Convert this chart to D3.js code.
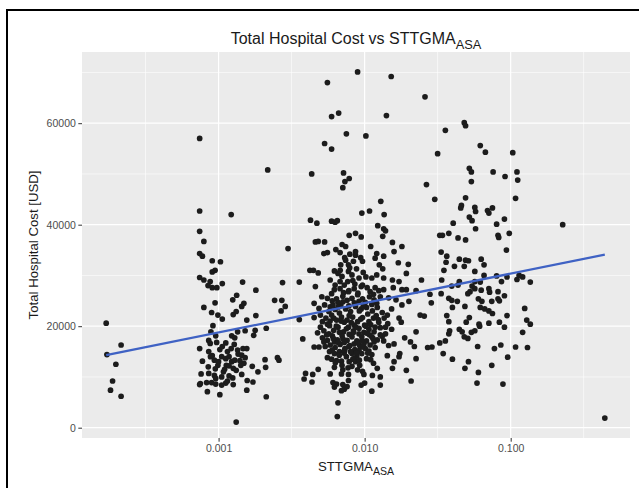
<!DOCTYPE html>
<html>
<head>
<meta charset="utf-8">
<script src="https://cdn.jsdelivr.net/npm/d3@7"></script>
<style>
  body { margin: 0; background: #fff; }
  svg text { font-family: "Liberation Sans", Arial, Helvetica, sans-serif; }
</style>
</head>
<body>
<svg id="chart" width="639" height="488"></svg>
<script>
const lowGroup = [
  [0.000170, 20600], [0.000172, 14400], [0.000215, 16300], [0.000198, 12500],
  [0.000188, 9200], [0.000182, 7400], [0.000215, 6200]
];

const milliGroup = [
  [0.000742, 57000], [0.000742, 42700], [0.000742, 38700], [0.000793, 36700],
  [0.000742, 34300], [0.000775, 33800], [0.000905, 32900], [0.00103, 32700],
  [0.000946, 31000], [0.000905, 30700], [0.000742, 29600], [0.000793, 29100],
  [0.000876, 28800], [0.000847, 28000], [0.000905, 27600], [0.000973, 27600],
  [0.00106, 28400], [0.00122, 42000], [0.00146, 28700], [0.00180, 27100],
  [0.00217, 50800], [0.00299, 35300], [0.00274, 28600], [0.00357, 28700],
  [0.000793, 23700], [0.000946, 24600], [0.000896, 22700], [0.000989, 22200],
  [0.00106, 21400], [0.00125, 25200], [0.00133, 26100], [0.00144, 23900],
  [0.00149, 24500], [0.00126, 22300], [0.00132, 22900], [0.00156, 21200],
  [0.00180, 22100], [0.00242, 25100], [0.00271, 25100], [0.00286, 23900],
  [0.00268, 23000], [0.00212, 19600], [0.00178, 19200], [0.00174, 18200],
  [0.00152, 19100], [0.00135, 18900], [0.000915, 20100], [0.000886, 18900],
  [0.000856, 17200], [0.000876, 16600], [0.000956, 18100], [0.000742, 15600],
  [0.000775, 13100], [0.000856, 15000], [0.000905, 14200], [0.000936, 13300],
  [0.00102, 15400], [0.00106, 16000], [0.00112, 16700], [0.00123, 18100],
  [0.00129, 17700], [0.00128, 16400], [0.00135, 15300], [0.00147, 15600],
  [0.00156, 15600], [0.00144, 14300], [0.00152, 13800], [0.000989, 12300],
  [0.00105, 14000], [0.00112, 13600], [0.00118, 14000], [0.00123, 13000],
  [0.00129, 13300], [0.00113, 12300], [0.00118, 12200], [0.00126, 11700],
  [0.00132, 11300], [0.00142, 12300], [0.00149, 12700], [0.00144, 10500],
  [0.00170, 12100], [0.00186, 11000], [0.00208, 13400], [0.00210, 11900],
  [0.00253, 13800], [0.00259, 13300], [0.000759, 10600], [0.000856, 10700],
  [0.000936, 10300], [0.00108, 11000], [0.00118, 10200], [0.000750, 8700],
  [0.000742, 8500], [0.000828, 8900], [0.000896, 8900], [0.000956, 8600],
  [0.00112, 8800], [0.00115, 9200], [0.00126, 8500], [0.00157, 9300],
  [0.00172, 9000], [0.000838, 7100], [0.00102, 6500], [0.00156, 7400],
  [0.00212, 6100], [0.00132, 1100], [0.000956, 9700], [0.00105, 8400],
  [0.00085, 12000], [0.00095, 11600], [0.00100, 13000], [0.00110, 11500],
  [0.00115, 15000], [0.00122, 15600], [0.00136, 14500], [0.00140, 13200],
  [0.00105, 10000], [0.00125, 9800], [0.00088, 14000], [0.00097, 16800]
];

const centiGroup = [
  [0.00895, 70100], [0.00556, 68000], [0.0152, 69200], [0.0259, 65200],
  [0.00594, 61300], [0.00664, 62000], [0.0141, 61500], [0.00750, 57900],
  [0.0102, 57500], [0.00532, 56000], [0.00594, 54900], [0.00434, 50000],
  [0.00717, 50200], [0.00784, 49100], [0.00733, 48500], [0.00709, 47300],
  [0.0129, 44600], [0.00957, 42300], [0.0108, 42700], [0.0136, 42000],
  [0.00426, 40900], [0.00471, 40300], [0.00594, 40700], [0.00628, 40500],
  [0.00650, 40800], [0.0123, 39800], [0.0135, 39200], [0.0139, 38800],
  [0.0133, 37700], [0.00866, 38300], [0.00784, 37900], [0.00947, 37600],
  [0.00460, 36600], [0.00481, 36700], [0.00532, 36600], [0.0155, 36500],
  [0.0180, 35700], [0.0110, 35700], [0.00701, 36100], [0.00741, 35700],
  [0.00635, 35100], [0.0159, 34700], [0.00526, 34300], [0.00556, 34500],
  [0.00679, 34500], [0.00792, 34200], [0.00866, 34000], [0.0121, 34300],
  [0.0135, 33800], [0.0118, 33400], [0.0199, 32200], [0.0170, 32500],
  [0.0193, 30400], [0.00741, 33000], [0.00838, 32800], [0.00967, 32800],
  [0.00686, 32100], [0.0126, 32100], [0.0133, 31300], [0.00422, 31000],
  [0.00446, 31000], [0.00481, 30500], [0.00621, 30900], [0.00657, 30400],
  [0.00775, 30800], [0.00819, 30100], [0.00978, 30600], [0.0102, 29700],
  [0.0112, 29500], [0.0121, 30100], [0.0135, 29500], [0.0155, 29100],
  [0.0172, 28800], [0.0245, 29100], [0.00460, 27800], [0.00581, 29100],
  [0.00679, 28800], [0.00725, 28100], [0.00857, 28300], [0.00947, 27800],
  [0.0118, 27600], [0.0157, 27600], [0.0180, 27200], [0.0193, 27200],
  [0.0225, 27000], [0.0280, 26300], [0.0135, 27200], [0.00509, 25800],
  [0.00556, 25500], [0.00594, 26400], [0.00642, 25400], [0.00709, 25900],
  [0.00758, 25100], [0.00819, 25500], [0.00895, 26200], [0.00967, 25400],
  [0.0108, 25800], [0.0116, 25200], [0.0128, 25800], [0.0146, 25600],
  [0.0164, 25200], [0.0201, 24900], [0.0180, 24200], [0.0286, 24600],
  [0.00451, 24500], [0.00487, 23500], [0.00532, 24200], [0.00581, 23800],
  [0.00628, 23300], [0.00686, 24100], [0.00741, 23400], [0.00801, 22900],
  [0.00866, 23900], [0.00947, 23400], [0.0103, 23700], [0.0113, 23000],
  [0.0122, 23700], [0.0132, 22700], [0.0153, 23400], [0.0240, 22200],
  [0.0256, 22000], [0.00357, 21300], [0.00451, 21700], [0.00498, 22200],
  [0.00543, 21600], [0.00594, 22200], [0.00642, 21200], [0.00694, 21800],
  [0.00758, 21200], [0.00828, 21800], [0.00895, 20900], [0.00967, 21700],
  [0.0107, 20900], [0.0115, 21600], [0.0125, 20800], [0.0136, 21600],
  [0.0144, 20500], [0.0172, 21600], [0.0178, 20800], [0.00498, 19800],
  [0.00526, 19100], [0.00575, 20100], [0.00614, 19200], [0.00657, 19800],
  [0.00717, 18900], [0.00775, 19800], [0.00838, 19100], [0.00915, 19600],
  [0.00989, 18800], [0.0107, 19400], [0.0116, 18900], [0.0128, 19700],
  [0.0139, 19800], [0.0153, 19400], [0.0225, 18900], [0.00377, 17500],
  [0.00514, 17700], [0.00556, 17200], [0.00601, 18100], [0.00650, 17300],
  [0.00701, 18100], [0.00758, 17200], [0.00819, 17900], [0.00885, 17100],
  [0.00957, 17900], [0.0103, 17100], [0.0112, 17900], [0.0122, 17300],
  [0.0132, 18000], [0.0188, 17700], [0.0206, 16900], [0.00451, 15900],
  [0.00487, 15900], [0.00537, 16000], [0.00581, 16300], [0.00628, 15800],
  [0.00679, 16400], [0.00733, 15600], [0.00792, 16200], [0.00857, 15400],
  [0.00925, 16200], [0.0101, 15600], [0.0109, 16300], [0.0118, 15800],
  [0.0146, 16200], [0.0159, 16500], [0.0219, 16000], [0.0143, 14200],
  [0.0159, 13000], [0.0174, 14600], [0.0172, 14000], [0.0225, 13600],
  [0.00556, 13800], [0.00594, 13500], [0.00642, 13200], [0.00694, 13100],
  [0.00750, 14000], [0.00819, 14600], [0.00885, 14200], [0.00957, 14600],
  [0.00866, 13000], [0.0115, 12700], [0.00481, 11500], [0.00621, 11900],
  [0.00709, 11400], [0.00819, 12100], [0.00895, 11400], [0.00967, 11100],
  [0.0122, 11700], [0.0155, 11700], [0.0193, 11300], [0.00394, 10700],
  [0.00441, 10500], [0.00581, 10600], [0.00694, 10600], [0.00775, 10500],
  [0.00989, 10500], [0.0113, 10300], [0.0128, 10000], [0.00385, 9600],
  [0.00436, 9000], [0.00607, 8900], [0.00642, 8600], [0.00709, 8500],
  [0.00775, 9300], [0.00947, 8400], [0.0100, 8800], [0.0128, 8400],
  [0.0208, 9200], [0.00621, 8000], [0.00725, 7600], [0.00758, 8100],
  [0.00694, 7300], [0.0112, 7200], [0.00657, 4900], [0.00650, 2200]
];

// the crowded core around 0.01, where the dots overlap
const centiCore = [
  [0.00569, 22900], [0.00614, 21600], [0.00672, 22600], [0.00725, 20800],
  [0.00784, 22100], [0.00848, 20200], [0.00915, 18500], [0.01000, 20200],
  [0.0108, 18300], [0.0118, 19800], [0.0128, 18300], [0.00569, 18500],
  [0.00621, 16900], [0.00672, 18800], [0.00725, 16800], [0.00784, 18400],
  [0.00848, 16500], [0.00915, 15200], [0.00989, 16500], [0.0107, 15100],
  [0.0116, 16900], [0.00575, 15000], [0.00621, 14600], [0.00672, 15000],
  [0.00725, 14700], [0.00784, 13000], [0.00848, 13600], [0.00925, 12300],
  [0.0103, 13600], [0.0112, 14400], [0.00607, 24200], [0.00657, 24700],
  [0.00717, 26600], [0.00775, 26800], [0.00848, 27400], [0.00915, 24900],
  [0.0101, 24700], [0.0109, 26800], [0.0121, 24500], [0.00556, 20400],
  [0.00514, 20900], [0.00476, 18700], [0.00526, 16900], [0.0135, 17100],
  [0.0139, 18500], [0.0143, 22200], [0.00628, 28100], [0.00679, 27400],
  [0.00766, 28800], [0.00915, 29500], [0.00775, 32100], [0.00866, 34700],
  [0.00967, 28100]
];

const centiCore2 = [
  [0.0060, 25000], [0.0066, 23800], [0.0071, 24800], [0.0078, 24000],
  [0.0085, 24600], [0.0092, 23000], [0.0098, 24100], [0.0105, 22400],
  [0.0112, 24300], [0.0120, 22100], [0.0058, 21000], [0.0064, 20000],
  [0.0069, 21000], [0.0075, 19500], [0.0081, 20700], [0.0087, 19800],
  [0.0094, 21400], [0.0102, 20000], [0.0110, 20300], [0.0124, 21300],
  [0.0055, 18300], [0.0061, 17600], [0.0066, 16800], [0.0071, 17500],
  [0.0078, 16000], [0.0084, 18800], [0.0090, 16800], [0.0096, 17200],
  [0.0104, 18600], [0.0114, 17600], [0.0060, 15300], [0.0067, 14300],
  [0.0073, 15300], [0.0080, 15000], [0.0088, 14800], [0.0095, 15900],
  [0.0105, 14700], [0.0110, 13400], [0.0063, 12800], [0.0070, 12300],
  [0.0077, 11800], [0.0083, 13500], [0.0092, 13300], [0.0062, 27200],
  [0.0070, 29800], [0.0078, 27000], [0.0083, 29000], [0.0090, 26500],
  [0.0104, 27600], [0.0115, 26300], [0.0125, 27000], [0.0068, 31000],
  [0.0073, 33500], [0.0079, 31500], [0.0088, 31300], [0.0094, 33500]
];

const deciGroup = [
  [0.0481, 60100], [0.0491, 59500], [0.0357, 58600], [0.0316, 54000],
  [0.0619, 55600], [0.0671, 54300], [0.1033, 54200], [0.0521, 51100],
  [0.0538, 50400], [0.0758, 50400], [0.0915, 49500], [0.1104, 50400],
  [0.1117, 48800], [0.0538, 48500], [0.0265, 47900], [0.1080, 45200],
  [0.0302, 45000], [0.0491, 45300], [0.0460, 43800], [0.0455, 43300],
  [0.0568, 43400], [0.0575, 42600], [0.0694, 42800], [0.0709, 42300],
  [0.0750, 43300], [0.0521, 41500], [0.0544, 40800], [0.0906, 41100],
  [0.0801, 40100], [0.0404, 40300], [0.0575, 39200], [0.0978, 38300],
  [0.0819, 37900], [0.0828, 37500], [0.0327, 37900], [0.0341, 37900],
  [0.0377, 38300], [0.0436, 37400], [0.0491, 37000], [0.0935, 35000],
  [0.0334, 34600], [0.0365, 33800], [0.0361, 32600], [0.0445, 33200],
  [0.0491, 33000], [0.0514, 32900], [0.0412, 31800], [0.0481, 31800],
  [0.0628, 33200], [0.0657, 32100], [0.0349, 31000], [0.0568, 30800],
  [0.0657, 30000], [0.0801, 29900], [0.0944, 29700], [0.1142, 30000],
  [0.1207, 29700], [0.1104, 29200], [0.0337, 29100], [0.0445, 28800],
  [0.0568, 28800], [0.0619, 28700], [0.0865, 28800], [0.1362, 28700],
  [0.0395, 27900], [0.0436, 28100], [0.0544, 27900], [0.0568, 27400],
  [0.0527, 26800], [0.0509, 26400], [0.0628, 27100], [0.0709, 27400],
  [0.0819, 26800], [0.0717, 26700], [0.0334, 26400], [0.0906, 26000],
  [0.0819, 25400], [0.0837, 25000], [0.0601, 25400], [0.0377, 25500],
  [0.0395, 25100], [0.0431, 24900], [0.0742, 24900], [0.0635, 24900],
  [0.0399, 23700], [0.0486, 23900], [0.0619, 23700], [0.0664, 23400],
  [0.0709, 23000], [0.0750, 22500], [0.1247, 23500], [0.0365, 22100],
  [0.0521, 21700], [0.0944, 22100], [0.0377, 20900], [0.0496, 20800],
  [0.0607, 20400], [0.0613, 20000], [0.0709, 20600], [0.0837, 20800],
  [0.0906, 19800], [0.1288, 21200], [0.1362, 20400], [0.0445, 19400],
  [0.0465, 18900], [0.0382, 19100], [0.0377, 18500], [0.0538, 18800],
  [0.0568, 19100], [0.0509, 17600], [0.0481, 17900], [0.1207, 18800],
  [0.0327, 16700], [0.0357, 17100], [0.0594, 16000], [0.0774, 15600],
  [0.0856, 16300], [0.1080, 15900], [0.1303, 15800], [0.0270, 15800],
  [0.0289, 15900], [0.0345, 14600], [0.0399, 13500], [0.0514, 13000],
  [0.0954, 13900], [0.0742, 12300], [0.0486, 11700], [0.0601, 10900],
  [0.0588, 8800], [0.0885, 8600], [0.227, 40000], [0.441, 1900]
];

// fitted linear trend (cost ~ log10 STTGMA), end points
const fitX = [0.000170, 0.441];
const fitY = [14300, 34100];

const xMajor = [0.001, 0.01, 0.1];
const xMajorLabels = ["0.001", "0.010", "0.100"];
const xMinor = [0.000316, 0.00316, 0.0316, 0.316];
const yMajor = [0, 20000, 40000, 60000];
const yMinor = [10000, 30000, 50000, 70000];

const points = [].concat(lowGroup, milliGroup, centiGroup, centiCore, centiCore2, deciGroup);

const svg = d3.select("#chart");
const panel = { left: 82, right: 630, top: 52, bottom: 438 };

// frame around the figure
svg.append("rect")
    .attr("x", 7).attr("y", 10)
    .attr("width", 660).attr("height", 500)
    .attr("fill", "none")
    .attr("stroke", "#000")
    .attr("stroke-width", 2);

let x = d3.scaleLog()
    .domain([0.0001161, 0.656])
    .range([panel.left, panel.right]);

let y = d3.scaleLinear()
    .domain([-2030, 74030])
    .range([panel.bottom, panel.top]);

svg.append("rect")
    .attr("x", panel.left).attr("y", panel.top)
    .attr("width", panel.right - panel.left)
    .attr("height", panel.bottom - panel.top)
    .attr("fill", "#EBEBEB");

let grid = svg.append("g");

grid.selectAll(".ymin").data(yMinor).enter().append("line")
    .attr("x1", panel.left).attr("x2", panel.right)
    .attr("y1", d => y(d)).attr("y2", d => y(d))
    .attr("stroke", "#fff").attr("stroke-width", 0.6);

grid.selectAll(".xmin").data(xMinor).enter().append("line")
    .attr("y1", panel.top).attr("y2", panel.bottom)
    .attr("x1", d => x(d)).attr("x2", d => x(d))
    .attr("stroke", "#fff").attr("stroke-width", 0.6);

grid.selectAll(".ymaj").data(yMajor).enter().append("line")
    .attr("x1", panel.left).attr("x2", panel.right)
    .attr("y1", d => y(d)).attr("y2", d => y(d))
    .attr("stroke", "#fff").attr("stroke-width", 1.2);

grid.selectAll(".xmaj").data(xMajor).enter().append("line")
    .attr("y1", panel.top).attr("y2", panel.bottom)
    .attr("x1", d => x(d)).attr("x2", d => x(d))
    .attr("stroke", "#fff").attr("stroke-width", 1.2);

// points
svg.append("g").selectAll("circle")
    .data(points)
    .enter()
    .append("circle")
    .attr("cx", d => x(d[0]))
    .attr("cy", d => y(d[1]))
    .attr("r", 2.85)
    .attr("fill", "#1c1c1c");

// trend line
let line = d3.line()
    .x(d => x(d[0]))
    .y(d => y(d[1]));

svg.append("path")
    .datum(fitX.map((v, i) => [v, fitY[i]]))
    .attr("d", line)
    .attr("fill", "none")
    .attr("stroke", "#3F62C4")
    .attr("stroke-width", 2.3);

// axes
let xAxis = d3.axisBottom(x)
    .tickValues(xMajor)
    .tickFormat((d, i) => xMajorLabels[i])
    .tickSize(3.7)
    .tickPadding(2.5);

let yAxis = d3.axisLeft(y)
    .tickValues(yMajor)
    .tickFormat(d3.format("d"))
    .tickSize(3.7)
    .tickPadding(2.5);

let gx = svg.append("g")
    .attr("transform", "translate(0," + panel.bottom + ")")
    .call(xAxis);

let gy = svg.append("g")
    .attr("transform", "translate(" + panel.left + ",0)")
    .call(yAxis);

[gx, gy].forEach(g => {
    g.select(".domain").remove();
    g.selectAll(".tick line").attr("stroke", "#333").attr("stroke-width", 1);
    g.selectAll(".tick text")
        .attr("fill", "#4D4D4D")
        .style("font-size", "10.5px")
        .style("font-family", "'Liberation Sans', Arial, Helvetica, sans-serif");
});

// title and axis titles with subscripts
function subText(sel, main, sub, size) {
    sel.append("tspan").text(main);
    sel.append("tspan")
        .attr("dy", size * 0.3)
        .style("font-size", (size * 0.8) + "px")
        .text(sub);
}

let midX = (panel.left + panel.right) / 2;

svg.append("text")
    .attr("x", midX).attr("y", 44)
    .attr("text-anchor", "middle")
    .style("font-size", "16px")
    .attr("fill", "#1a1a1a")
    .call(subText, "Total Hospital Cost vs STTGMA", "ASA", 16);

svg.append("text")
    .attr("x", midX).attr("y", 471)
    .attr("text-anchor", "middle")
    .style("font-size", "13.2px")
    .attr("fill", "#1a1a1a")
    .call(subText, "STTGMA", "ASA", 13.2);

svg.append("text")
    .attr("transform", "translate(38," + ((panel.top + panel.bottom) / 2) + ") rotate(-90)")
    .attr("text-anchor", "middle")
    .style("font-size", "13.2px")
    .attr("fill", "#1a1a1a")
    .text("Total Hospital Cost [USD]");
</script>
</body>
</html>
